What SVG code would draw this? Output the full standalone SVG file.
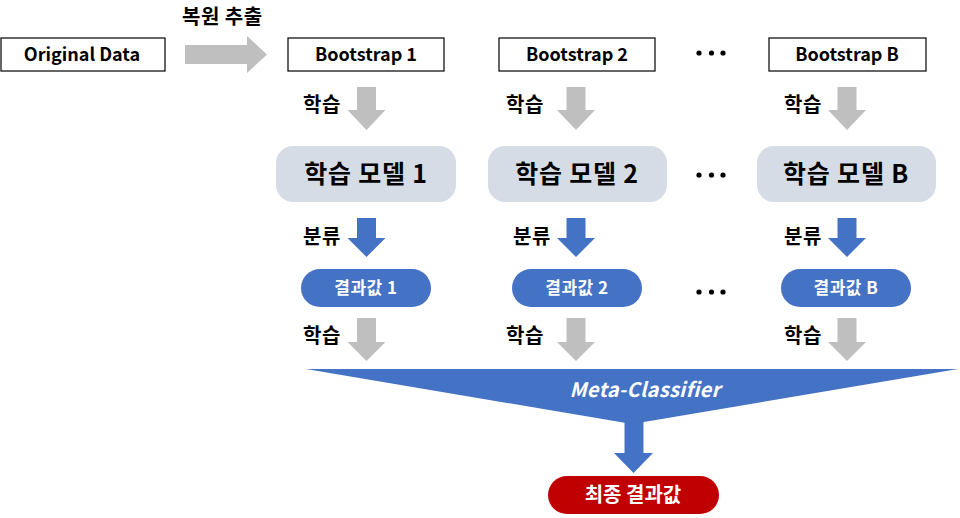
<svg xmlns="http://www.w3.org/2000/svg" width="960" height="518" viewBox="0 0 960 518">
<style>
text{font-family:"Noto Sans CJK KR","Noto Sans",sans-serif;font-weight:bold;}
.box{fill:#fff;stroke:#000;stroke-width:1.2;}
.bt{font-size:18px;fill:#000;text-anchor:middle;}
.lbl{font-size:20px;fill:#000;letter-spacing:0.5px;}
.model{fill:#D6DCE5;}
.mt{font-size:25px;fill:#000;text-anchor:middle;letter-spacing:0.8px;}
.res{fill:#4472C4;}
.rt{font-size:17px;fill:#fff;text-anchor:middle;letter-spacing:0.5px;}
.grey{fill:#BFBFBF;}
.blue{fill:#4472C4;}
.dot{fill:#000;}
</style>
<defs>
<polygon id="arrTop" points="-9.5,87 9.5,87 9.5,110 19,110 0,130 -19,110 -9.5,110"/>
<polygon id="arrMid" points="-9.5,218 9.5,218 9.5,238 19,238 0,257 -19,238 -9.5,238"/>
<polygon id="arrBot" points="-9.5,318 9.5,318 9.5,342 19,342 0,361 -19,342 -9.5,342"/>
</defs>

<g id="original">
<rect class="box" x="1" y="38" width="164" height="33"/>
<text class="bt" x="82" y="61">Original Data</text>
</g>

<g id="bootstrap1">
<rect class="box" x="288" y="38" width="156" height="33"/>
<text class="bt" x="366" y="61">Bootstrap 1</text>
</g>
<g id="bootstrap2">
<rect class="box" x="499" y="38" width="156" height="33"/>
<text class="bt" x="577" y="61">Bootstrap 2</text>
</g>
<g id="bootstrapB">
<rect class="box" x="769" y="38" width="157" height="33"/>
<text class="bt" x="847" y="61">Bootstrap B</text>
</g>

<g id="model1">
<rect class="model" x="276" y="146" width="180" height="56" rx="17"/>
<text class="mt" x="366" y="183">학습 모델 1</text>
</g>
<g id="model2">
<rect class="model" x="488" y="146" width="179" height="56" rx="17"/>
<text class="mt" x="577" y="183">학습 모델 2</text>
</g>
<g id="modelB">
<rect class="model" x="757" y="146" width="179" height="56" rx="17"/>
<text class="mt" x="846" y="183">학습 모델 B</text>
</g>

<g id="result1">
<rect class="res" x="301" y="269" width="130" height="38" rx="19"/>
<text class="rt" x="366" y="294">결과값 1</text>
</g>
<g id="result2">
<rect class="res" x="512" y="269" width="130" height="38" rx="19"/>
<text class="rt" x="577" y="294">결과값 2</text>
</g>
<g id="resultB">
<rect class="res" x="781" y="269" width="130" height="38" rx="19"/>
<text class="rt" x="846" y="294">결과값 B</text>
</g>

<g id="metaClassifier">
<polygon class="blue" points="306,369 958,369 632,424"/>
<text x="645" y="397" font-size="20" font-style="italic" fill="#fff" text-anchor="middle" letter-spacing="0.3">Meta-Classifier</text>
</g>

<g id="final">
<rect x="548" y="476" width="171" height="38" rx="19" fill="#C00000"/>
<text x="633" y="502" font-size="20" fill="#fff" text-anchor="middle">최종 결과값</text>
</g>

<g id="connectors">
<polygon class="grey" points="185,45 247,45 247,36 267,54.5 247,73 247,64 185,64"/>
<text class="lbl" x="182" y="24" font-size="19">복원 추출</text>

<use href="#arrTop" class="grey" transform="translate(366.5,0)"/>
<use href="#arrTop" class="grey" transform="translate(576,0)"/>
<use href="#arrTop" class="grey" transform="translate(847,0)"/>
<text class="lbl" x="303" y="112">학습</text>
<text class="lbl" x="506" y="112">학습</text>
<text class="lbl" x="784" y="112">학습</text>

<use href="#arrMid" class="blue" transform="translate(366.5,0)"/>
<use href="#arrMid" class="blue" transform="translate(576,0)"/>
<use href="#arrMid" class="blue" transform="translate(847,0)"/>
<text class="lbl" x="303" y="244">분류</text>
<text class="lbl" x="513" y="244">분류</text>
<text class="lbl" x="784" y="244">분류</text>

<use href="#arrBot" class="grey" transform="translate(366.5,0)"/>
<use href="#arrBot" class="grey" transform="translate(576,0)"/>
<use href="#arrBot" class="grey" transform="translate(847,0)"/>
<text class="lbl" x="303" y="343">학습</text>
<text class="lbl" x="506" y="343">학습</text>
<text class="lbl" x="784" y="343">학습</text>

<polygon class="blue" points="624.5,420 643.5,420 643.5,453 653,453 633.5,473 614,453 624.5,453"/>
</g>

<g id="ellipsis">
<circle class="dot" cx="699" cy="53" r="2.6"/><circle class="dot" cx="711.5" cy="53" r="2.6"/><circle class="dot" cx="723" cy="53" r="2.6"/>
<circle class="dot" cx="699" cy="175" r="2.6"/><circle class="dot" cx="711.5" cy="175" r="2.6"/><circle class="dot" cx="723" cy="175" r="2.6"/>
<circle class="dot" cx="699" cy="292" r="2.6"/><circle class="dot" cx="711.5" cy="292" r="2.6"/><circle class="dot" cx="723" cy="292" r="2.6"/>
</g>
</svg>
